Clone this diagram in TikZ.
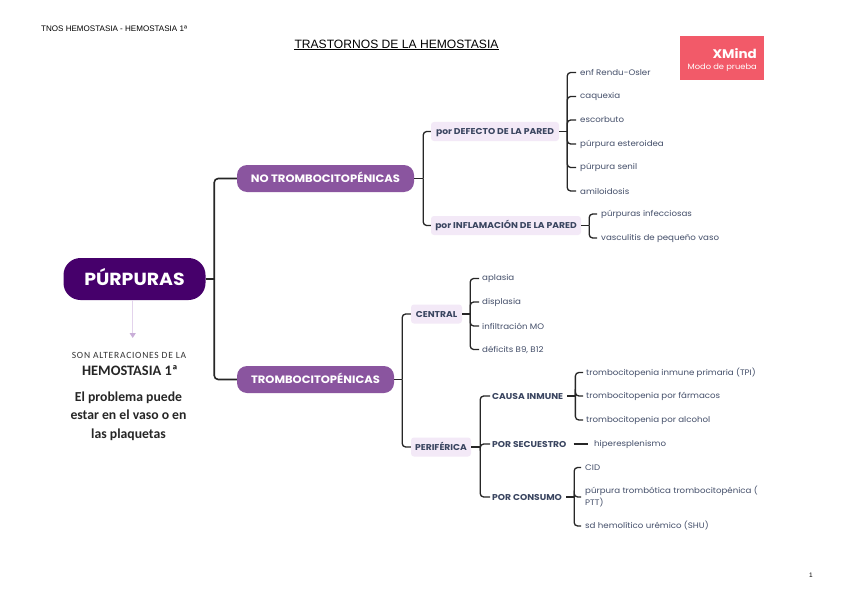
\documentclass[tikz,border=0pt]{standalone}
\usepackage{fontspec}
\setmainfont{Poppins}[FakeStretch=1.08]
\newfontfamily\liberation{Liberation Sans}
\newfontfamily\carlito{Carlito}
\usetikzlibrary{arrows.meta}
\definecolor{rootc}{HTML}{46006B}
\definecolor{mainc}{HTML}{8A559F}
\definecolor{subc}{HTML}{F3E9F7}
\definecolor{inkc}{HTML}{3A4560}
\definecolor{leafc}{HTML}{434E69}
\definecolor{xmindc}{HTML}{F25A69}
\definecolor{arrowc}{HTML}{E3D3EC}
\definecolor{tipc}{HTML}{C9AED8}
\tikzset{
  x=1pt,y=-1pt,
  rootbox/.style={fill=rootc,text=white,rounded corners=17pt,minimum width=142pt,minimum height=42pt,font=\fontsize{17.5}{20}\selectfont\bfseries,inner sep=0pt,text height=12.2pt,text depth=0pt},
  mainbox/.style={fill=mainc,text=white,rounded corners=10pt,minimum height=27pt,font=\fontsize{10.7}{12}\selectfont\bfseries,inner sep=0pt,text height=7.5pt,text depth=0pt},
  subbox/.style={fill=subc,text=inkc,rounded corners=3pt,minimum height=19pt,font=\fontsize{8.5}{10}\selectfont\bfseries,inner sep=0pt,text height=6pt,text depth=0pt},
  capt/.style={text=inkc,font=\fontsize{8.5}{10}\selectfont\bfseries,inner sep=0pt,anchor=west,text height=6pt,text depth=0pt},
  leaf/.style={text=leafc,font=\fontsize{8}{12}\selectfont,inner sep=0pt,anchor=west,align=left},
  conn/.style={draw=black!85,line width=1.3pt,rounded corners=3.5pt},
  connroot/.style={draw=black!85,line width=1.6pt,rounded corners=4pt},
  note/.style={text=black!85,inner sep=0pt,align=center},
}
\newcommand\branchto[4]{\draw[#1] #2 -- ++(#3,0); \draw[#1] #2 ++(#3,0) |- #4;}
\begin{document}
\begin{tikzpicture}
\useasboundingbox (0,0) rectangle (848,599);
\fill[white] (0,0) rectangle (848,599);
% header
\node[anchor=west,inner sep=0pt,font=\liberation\fontsize{8.05}{10}\selectfont] (header) at (41,29) {TNOS HEMOSTASIA - HEMOSTASIA 1ª};
\node[inner sep=0pt,font=\liberation\fontsize{12.1}{14}\selectfont] (title) at (396.5,44) {TRASTORNOS DE LA HEMOSTASIA};
\draw[line width=0.6pt] ([yshift=-0.6pt]title.south west) -- ([yshift=-0.6pt]title.south east);
\node[inner sep=0pt,font=\liberation\fontsize{6.5}{8}\selectfont] (pagenum) at (811,575) {1};
% watermark
\node[fill=xmindc,minimum width=84pt,minimum height=44pt,inner sep=0pt] (xm) at (722,58) {};
\node[anchor=east,inner sep=0pt,text=white,font=\fontsize{12.5}{14}\selectfont\bfseries] (xm1) at (757,54) {XMind};
\node[anchor=east,inner sep=0pt,text=white,font=\fontsize{7.7}{9}\selectfont] (xm2) at (757,68) {Modo de prueba};
% main topics
\node[rootbox] (root) at (134.5,279) {PÚRPURAS};
\node[mainbox,minimum width=177pt] (no) at (325.5,178.5) {NO TROMBOCITOPÉNICAS};
\node[mainbox,minimum width=157pt] (si) at (315.5,379.5) {TROMBOCITOPÉNICAS};
% notes
\node[note,font=\carlito\fontsize{9.5}{11}\selectfont\addfontfeatures{LetterSpace=8},text=black!80] (n1) at (129,355) {SON ALTERACIONES DE LA};
\node[note,font=\carlito\bfseries\fontsize{14.4}{16}\selectfont] (n2) at (130,371) {HEMOSTASIA 1ª};
\node[note,font=\carlito\bfseries\fontsize{13.7}{18.7}\selectfont] (n3) at (128.5,416) {El problema puede\\estar en el vaso o en\\las plaquetas};
\coordinate (arrowend) at (132.7,338);
\draw[draw=arrowc,line width=1.2pt,-{Triangle[length=5pt,width=6pt,color=tipc,fill=tipc]}] (root.south -| arrowend) -- (arrowend);
% sub topics
\node[subbox,minimum width=128pt] (def) at (495,131.5) {por DEFECTO DE LA PARED};
\node[subbox,minimum width=150pt] (inf) at (506,225.5) {por INFLAMACIÓN DE LA PARED};
\node[subbox,minimum width=51pt] (cen) at (436.5,314) {CENTRAL};
\node[subbox,minimum width=60pt] (per) at (441,447) {PERIFÉRICA};
% leaves
\node[leaf] (a1) at (580,72.5) {enf Rendu-Osler};
\node[leaf] (a2) at (580,96.5) {caquexia};
\node[leaf] (a3) at (580,120) {escorbuto};
\node[leaf] (a4) at (580,144) {púrpura esteroidea};
\node[leaf] (a5) at (580,167.5) {púrpura senil};
\node[leaf] (a6) at (580,191) {amiloidosis};
\node[leaf] (b1) at (601,214) {púrpuras infecciosas};
\node[leaf] (b2) at (601,238) {vasculitis de pequeño vaso};
\node[leaf] (c1) at (482,278.5) {aplasia};
\node[leaf] (c2) at (482,302) {displasia};
\node[leaf] (c3) at (482,326) {infiltración MO};
\node[leaf] (c4) at (482,349.5) {déficits B9, B12};
\node[capt] (d1) at (492,396) {CAUSA INMUNE};
\node[capt] (d2) at (492,444) {POR SECUESTRO};
\node[capt] (d3) at (492,497) {POR CONSUMO};
\node[leaf] (e1) at (586,372.5) {trombocitopenia inmune primaria (TPI)};
\node[leaf] (e2) at (586,396) {trombocitopenia por fármacos};
\node[leaf] (e3) at (586,420) {trombocitopenia por alcohol};
\node[leaf] (f1) at (594,444) {hiperesplenismo};
\node[leaf] (g1) at (585,467.5) {CID};
\node[leaf] (g2) at (585,497) {púrpura trombótica trombocitopénica (\\PTT)};
\node[leaf] (g3) at (585,526) {sd hemolítico urémico (SHU)};
% connectors
\foreach \t in {no,si} {\branchto{connroot}{(root.east)}{8.5}{(\t.west)}}
\foreach \t in {def,inf} {\branchto{conn}{(no.east)}{9}{(\t.west)}}
\foreach \t in {cen,per} {\branchto{conn}{(si.east)}{8}{(\t.west)}}
\foreach \t in {a1,a2,a3,a4,a5,a6} {\branchto{conn}{(def.east)}{8}{([xshift=-4pt]\t.west)}}
\foreach \t in {b1,b2} {\branchto{conn}{(inf.east)}{8}{([xshift=-4pt]\t.west)}}
\foreach \t in {c1,c2,c3,c4} {\branchto{conn}{(cen.east)}{8}{([xshift=-3pt]\t.west)}}
\foreach \t in {d1,d2,d3} {\branchto{conn}{(per.east)}{9}{([xshift=-2pt]\t.west)}}
\foreach \t in {e1,e2,e3} {\branchto{conn}{([xshift=4pt]d1.east)}{8}{([xshift=-3pt]\t.west)}}
\draw[conn] ([xshift=7pt]d2.east) -- ([xshift=-6pt]f1.west);
\foreach \t in {g1,g2,g3} {\branchto{conn}{([xshift=4pt]d3.east)}{8}{([xshift=-4pt]\t.west)}}
\end{tikzpicture}
\end{document}
